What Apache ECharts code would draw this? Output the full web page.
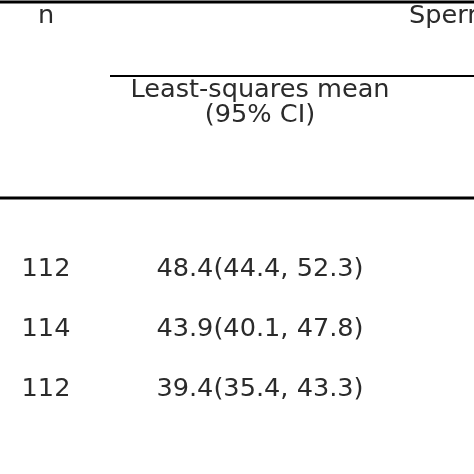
<!DOCTYPE html>
<html>
<head>
<meta charset="utf-8">
<script src="https://cdn.jsdelivr.net/npm/echarts@6/dist/echarts.min.js"></script>
<style>html,body{margin:0;padding:0;background:#fff}#main{width:474px;height:474px}</style>
</head>
<body>
<div id="main"></div>
<script>
var counts = ['112', '114', '112'];
var means = ['48.4(44.4, 52.3)', '43.9(40.1, 47.8)', '39.4(35.4, 43.3)'];
var headers = ['n', 'Least-squares mean', '(95% CI)', 'Sperm'];
var rowY = [269, 329, 389];

var myChart = echarts.init(document.getElementById('main'));
var font = '25.6px "DejaVu Sans"';
var color = '#2b2b2b';

function txt(x, y, s, align) {
    return {
        type: 'text', x: x, y: y,
        style: { text: s, font: font, fill: color, align: align || 'center', verticalAlign: 'middle' }
    };
}
function line(x1, x2, y, w) {
    return { type: 'line', shape: { x1: x1, y1: y, x2: x2, y2: y }, style: { stroke: '#000', lineWidth: w } };
}

var elements = [
    line(0, 474, 2, 3),
    line(110, 474, 76, 2),
    line(0, 474, 198, 3),
    txt(46, 16, headers[0]),
    txt(260, 90, headers[1]),
    txt(260, 115, headers[2]),
    txt(409, 16, headers[3], 'left')
];
counts.forEach(function (c, i) {
    elements.push(txt(46, rowY[i], c));
    elements.push(txt(260, rowY[i], means[i]));
});

myChart.setOption({
    backgroundColor: '#fff',
    graphic: { elements: elements }
});
</script>
</body>
</html>
